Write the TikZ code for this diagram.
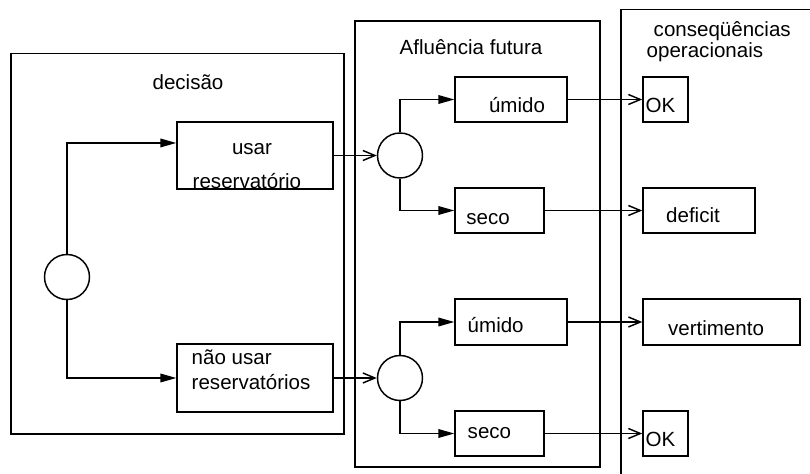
\documentclass[tikz,border=0pt]{standalone}
\usepackage{fontspec}
\setmainfont{Liberation Sans}
\usetikzlibrary{arrows.meta,fit,positioning}
\begin{document}
\begin{tikzpicture}[x=0.75pt,y=-0.75pt,
  line width=1.1pt,
  every node/.style={font=\fontsize{15.4}{18}\selectfont},
  frame/.style={draw,line width=1.1pt},
  box/.style={draw,line width=1.1pt,inner sep=0pt,fit={#1}},
  chance/.style={draw,circle,line width=1.1pt,inner sep=0pt,minimum size=33.75pt},
  txt/.style={inner sep=0pt,anchor=base},
  txtl/.style={inner sep=0pt,anchor=base west},
  fillarrow/.style={-{Triangle[length=12pt,width=6.5pt]}},
  openarrow/.style={-{Straight Barb[length=9pt,width=7.5pt,line width=1.1pt]}}]
\useasboundingbox (0,0) rectangle (810,474);
% frames
\draw[frame] (11,53.5) rectangle (344,434);
\draw[frame] (355,21) rectangle (600,467);
\draw[frame] (621,480) -- (621,9.5) -- (815,9.5);
% titles
\node[txt] (tdec) at (188,90) {decisão};
\node[txt] (tafl) at (471,55) {Afluência futura};
\node[txtl] (tcons1) at (653,37) {conseqüências};
\node[txtl] (tcons2) at (646,58) {operacionais};
% decision
\node[chance] (c0) at (67,277) {};
\node[box={(177,122) (333,189)}] (usar) {};
\node[txt] (tusar1) at (252,155) {usar};
\node[txtl] (tusar2) at (192,189) {reservatório};
\node[box={(177,344) (333,412)}] (nao) {};
\node[txtl] (tnao1) at (191,364) {não usar};
\node[txtl] (tnao2) at (191,389) {reservatórios};
% chance nodes
\node[chance] (c1) at (400,155.5) {};
\node[chance] (c2) at (400,378) {};
% inflow boxes
\node[box={(455,77) (567,122)}] (um1) {};
\node[txt] (tum1) at (517,113) {úmido};
\node[box={(455,188) (544,233)}] (se1) {};
\node[txt] (tse1) at (488,224) {seco};
\node[box={(455,299) (567,345)}] (um2) {};
\node[txtl] (tum2) at (467,332) {úmido};
\node[box={(455,411) (544,456)}] (se2) {};
\node[txtl] (tse2) at (467,438) {seco};
% consequences
\node[box={(643,77) (688,122)}] (ok1) {};
\node[txtl] (tok1) at (645,113) {OK};
\node[box={(643,188) (755,233)}] (def) {};
\node[txt] (tdef) at (693,223) {deficit};
\node[box={(643,299) (800,345)}] (vert) {};
\node[txt] (tvert) at (716,335) {vertimento};
\node[box={(643,411) (688,456)}] (ok2) {};
\node[txtl] (tok2) at (645,446) {OK};
% connectors
\draw[fillarrow] (c0.north) |- ([yshift=9.4pt]usar.west);
\draw[fillarrow] (c0.south) |- (nao.west);
\draw[openarrow] (usar.east) -- (c1.west);
\draw[openarrow] (nao.east) -- (c2.west);
\draw[fillarrow] (c1.north) |- (um1.west);
\draw[fillarrow] (c1.south) |- (se1.west);
\draw[fillarrow] (c2.north) |- (um2.west);
\draw[fillarrow] (c2.south) |- (se2.west);
\draw[openarrow] (um1.east) -- (ok1.west);
\draw[openarrow] (se1.east) -- (def.west);
\draw[openarrow] (um2.east) -- (vert.west);
\draw[openarrow] (se2.east) -- (ok2.west);
\end{tikzpicture}
\end{document}
